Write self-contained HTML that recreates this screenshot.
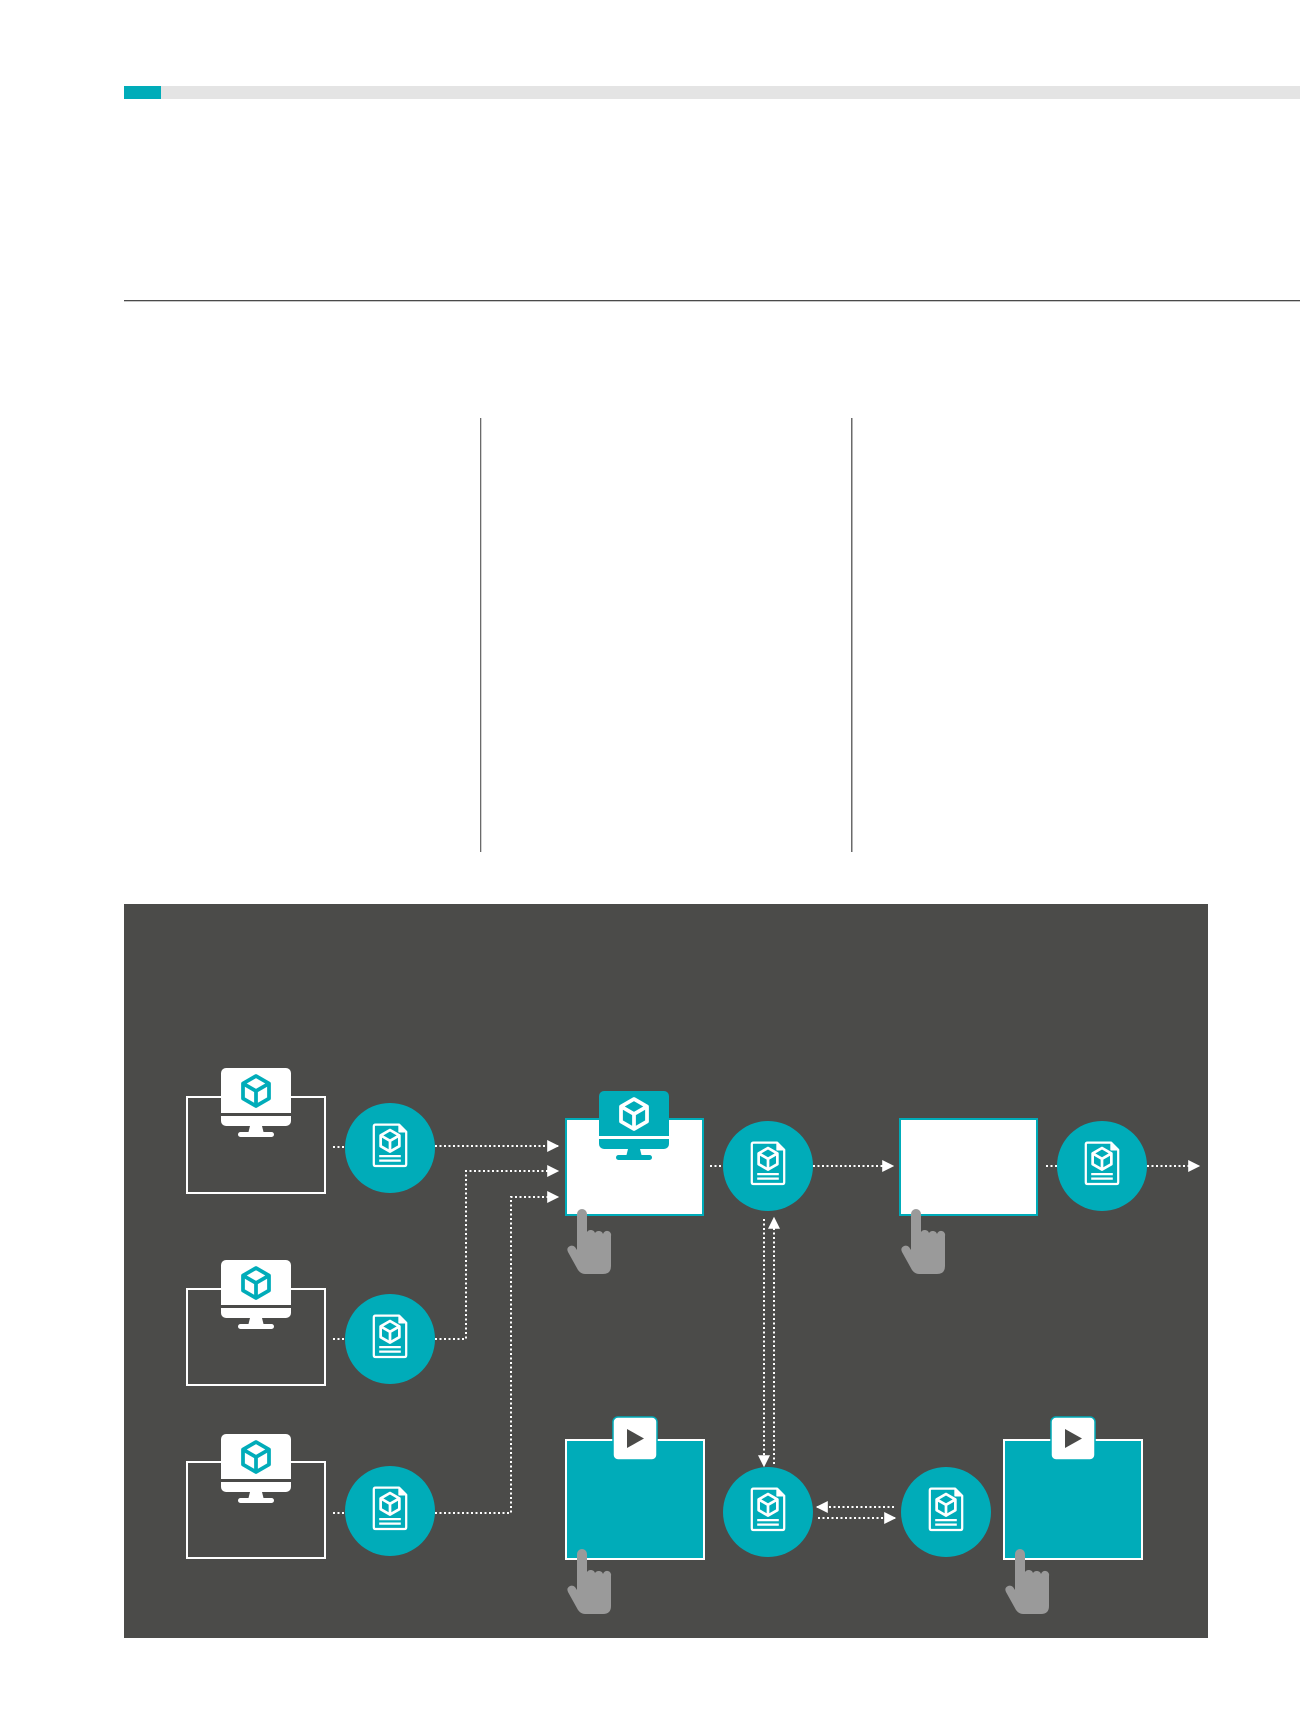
<!DOCTYPE html>
<html><head><meta charset="utf-8"><style>
html,body{margin:0;padding:0;background:#fff;}
svg{display:block;}
</style></head><body>
<svg width="1300" height="1734" viewBox="0 0 1300 1734" xmlns="http://www.w3.org/2000/svg">
<defs>
  <g id="cube" fill="none" stroke-width="3" stroke-linejoin="round">
    <path d="M0,-12 L10.4,-6 L10.4,6 L0,12 L-10.4,6 L-10.4,-6 Z"/>
    <path d="M-10.4,-6 L0,0 L10.4,-6 M0,0 V12"/>
  </g>
  <g id="monW">
    <rect x="0" y="0" width="70" height="58" rx="5" fill="#fff"/>
    <rect x="0" y="45" width="70" height="3" fill="#4a4a48"/>
    <path d="M29,58 H41 L43,66 H27 Z" fill="#fff"/>
    <rect x="17" y="64" width="36" height="5" rx="2.5" fill="#fff"/>
    <use href="#cube" stroke="#00acb9" transform="translate(35,23) scale(1.25)"/>
  </g>
  <g id="monT">
    <rect x="0" y="0" width="70" height="58" rx="5" fill="#00acb9"/>
    <rect x="0" y="45" width="70" height="3" fill="#fff"/>
    <path d="M29,58 H41 L43,66 H27 Z" fill="#00acb9"/>
    <rect x="17" y="64" width="36" height="5" rx="2.5" fill="#00acb9"/>
    <use href="#cube" stroke="#fff" transform="translate(35,23) scale(1.25)"/>
  </g>
  <g id="doc">
    <circle cx="0" cy="0" r="45" fill="#00acb9"/>
    <g transform="scale(0.9) translate(0,-3)">
    <path d="M-16,-23 H10 L18,-15 V21 Q18,23 16,23 H-16 Q-18,23 -18,21 V-21 Q-18,-23 -16,-23 Z" fill="none" stroke="#fff" stroke-width="2.5" stroke-linejoin="round"/>
    <path d="M10,-23 V-15 H18" fill="#fff" stroke="#fff" stroke-width="1.5" stroke-linejoin="round"/>
    <use href="#cube" x="0" y="-5" stroke="#fff"/>
    <path d="M-12,12 H12 M-12,17 H12" stroke="#fff" stroke-width="2.5"/>
    </g>
  </g>
  <path id="hand" fill="#9a9a9a" d="M10,6 a5,5 0 0 1 10,0 V24 a4.5,4.5 0 0 1 8,1 a4.5,4.5 0 0 1 8,1 a4,4 0 0 1 8,2 V58 q0,8 -8,8 H18 q-4,0 -7,-4 L1,44 q-2,-4 2,-6 q3,-1 5,1 L10,42 Z"/>
  <g id="play">
    <rect x="0" y="0" width="44" height="43" rx="5" fill="#fff" stroke="#00acb9" stroke-width="1.5"/>
    <path d="M14,12 L31,21.5 L14,31 Z" fill="#4a4a48"/>
  </g>
  <marker id="ar" viewBox="0 0 10 10" refX="9" refY="5" markerWidth="16" markerHeight="12" markerUnits="userSpaceOnUse" orient="auto">
    <path d="M0,0 L10,5 L0,10 Z" fill="#fff"/>
  </marker>
</defs>

<rect x="161" y="86" width="1139" height="13" fill="#e4e4e4"/>
<rect x="124" y="86" width="37" height="13" fill="#00acb9"/>
<rect x="124" y="300" width="1176" height="1.3" fill="#4a4a4a"/>
<rect x="480" y="418" width="1.3" height="434" fill="#6a6a6a"/>
<rect x="851" y="418" width="1.5" height="434" fill="#6a6a6a"/>

<rect x="124" y="904" width="1084" height="734" fill="#4b4b49"/>

<g fill="none" stroke="#fff" stroke-width="2" stroke-dasharray="2 2.5">
  <path d="M333,1147 H346"/>
  <path d="M435,1146 H558" marker-end="url(#ar)"/>
  <path d="M333,1339 H346"/>
  <path d="M435,1339 H466 V1171 H558" marker-end="url(#ar)"/>
  <path d="M333,1513 H346"/>
  <path d="M435,1513 H511 V1197 H558" marker-end="url(#ar)"/>
  <path d="M710,1166 H724"/>
  <path d="M813,1166 H893" marker-end="url(#ar)"/>
  <path d="M1046,1166 H1057"/>
  <path d="M1147,1166 H1199" marker-end="url(#ar)"/>
  <path d="M764,1219 V1466" marker-end="url(#ar)"/>
  <path d="M774,1464 V1218" marker-end="url(#ar)"/>
  <path d="M894,1507 H817" marker-end="url(#ar)"/>
  <path d="M818,1518 H895" marker-end="url(#ar)"/>
</g>

<rect x="187" y="1097" width="138" height="96" fill="none" stroke="#fff" stroke-width="2"/>
<rect x="187" y="1289" width="138" height="96" fill="none" stroke="#fff" stroke-width="2"/>
<rect x="187" y="1462" width="138" height="96" fill="none" stroke="#fff" stroke-width="2"/>
<use href="#monW" x="221" y="1068"/>
<use href="#monW" x="221" y="1260"/>
<use href="#monW" x="221" y="1434"/>
<use href="#doc" x="390" y="1148"/>
<use href="#doc" x="390" y="1339"/>
<use href="#doc" x="390" y="1511"/>

<rect x="566" y="1119" width="137" height="96" fill="#fff" stroke="#00acb9" stroke-width="2"/>
<use href="#monT" x="599" y="1091"/>
<use href="#hand" x="567" y="1208"/>
<use href="#doc" x="768" y="1166"/>

<rect x="900" y="1119" width="137" height="96" fill="#fff" stroke="#00acb9" stroke-width="2"/>
<use href="#hand" x="901" y="1208"/>
<use href="#doc" x="1102" y="1166"/>

<rect x="566" y="1440" width="138" height="119" fill="#00acb9" stroke="#fff" stroke-width="2"/>
<use href="#play" x="613" y="1417"/>
<use href="#hand" x="567" y="1548"/>
<use href="#doc" x="768" y="1512"/>
<use href="#doc" x="946" y="1512"/>
<rect x="1004" y="1440" width="138" height="119" fill="#00acb9" stroke="#fff" stroke-width="2"/>
<use href="#play" x="1051" y="1417"/>
<use href="#hand" x="1005" y="1548"/>
</svg>
</body></html>
